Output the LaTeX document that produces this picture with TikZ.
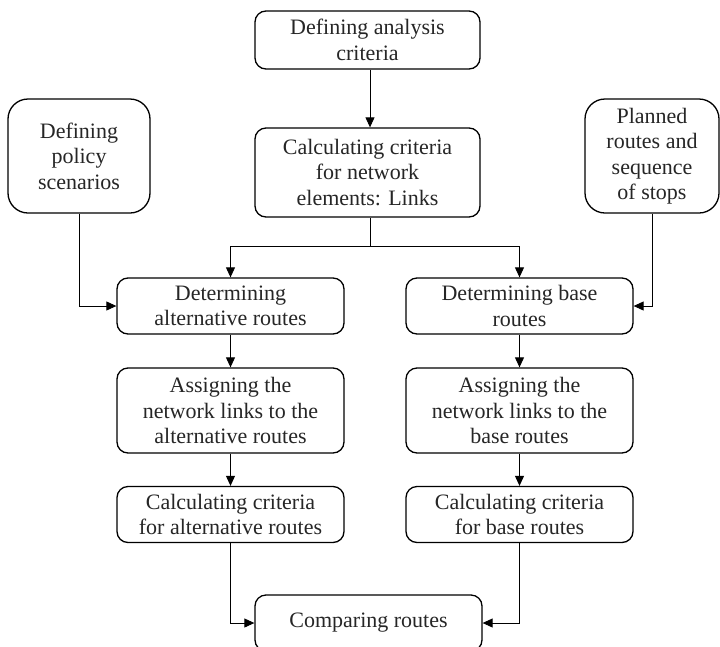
\documentclass[tikz,border=0pt]{standalone}
\usepackage{fontspec}
\setmainfont{Liberation Serif}
\usetikzlibrary{arrows.meta}
\begin{document}
\begin{tikzpicture}[x=1pt,y=-1pt,
  box/.style={draw=black,line width=1.3pt,rounded corners=11pt,align=center,
    inner sep=0pt,font=\fontsize{22}{25.5}\selectfont,text=black!85},
  bigbox/.style={box,rounded corners=20pt},
  conn/.style={draw=black,line width=0.9pt},
  arr/.style={conn,-{Triangle[length=10pt,width=9pt]}}]
\useasboundingbox (0,0) rectangle (720,646);
\fill[white] (0,0) rectangle (720,646);
% boxes: (x1,y1,x2,y2)
\node[box,minimum width=225pt,minimum height=58pt] (A) at (367.5,40) {Defining analysis\\criteria};
\node[box,minimum width=225pt,minimum height=89pt] (B) at (367.5,172.5) {Calculating criteria\\for network\\elements: Links};
\node[bigbox,minimum width=142pt,minimum height=114pt] (C) at (79,156) {Defining\\policy\\scenarios};
\node[bigbox,minimum width=134pt,minimum height=114pt] (E) at (652,156) {Planned\\routes and\\sequence\\of stops};
\node[box,minimum width=227pt,minimum height=56pt] (D) at (230.5,306) {Determining\\alternative routes};
\node[box,minimum width=227pt,minimum height=56pt] (F) at (519.5,306) {Determining base\\routes};
\node[box,minimum width=227pt,minimum height=85pt] (G) at (230.5,410.5) {Assigning the\\network links to the\\alternative routes};
\node[box,minimum width=227pt,minimum height=85pt] (H) at (519.5,410.5) {Assigning the\\network links to the\\base routes};
\node[box,minimum width=227pt,minimum height=56pt] (I) at (230.5,514.5) {Calculating criteria\\for alternative routes};
\node[box,minimum width=227pt,minimum height=56pt] (J) at (519.5,514.5) {Calculating criteria\\for base routes};
\node[box,minimum width=227pt,minimum height=56pt] (K) at (368.5,623) {Comparing routes};
% connectors
\coordinate (jn) at (370,246);
\draw[arr] (A.south -| jn) -- (B.north -| jn);
\draw[conn] (B.south -| jn) -- (jn);
\draw[arr] (jn) -| (D.north);
\draw[arr] (jn) -| (F.north);
\draw[arr] (C.south) |- (D.west);
\draw[arr] (E.south) |- (F.east);
\draw[arr] (D.south) -- (G.north);
\draw[arr] (F.south) -- (H.north);
\draw[arr] (G.south) -- (I.north);
\draw[arr] (H.south) -- (J.north);
\draw[arr] (I.south) |- (K.west);
\draw[arr] (J.south) |- (K.east);
\end{tikzpicture}
\end{document}
